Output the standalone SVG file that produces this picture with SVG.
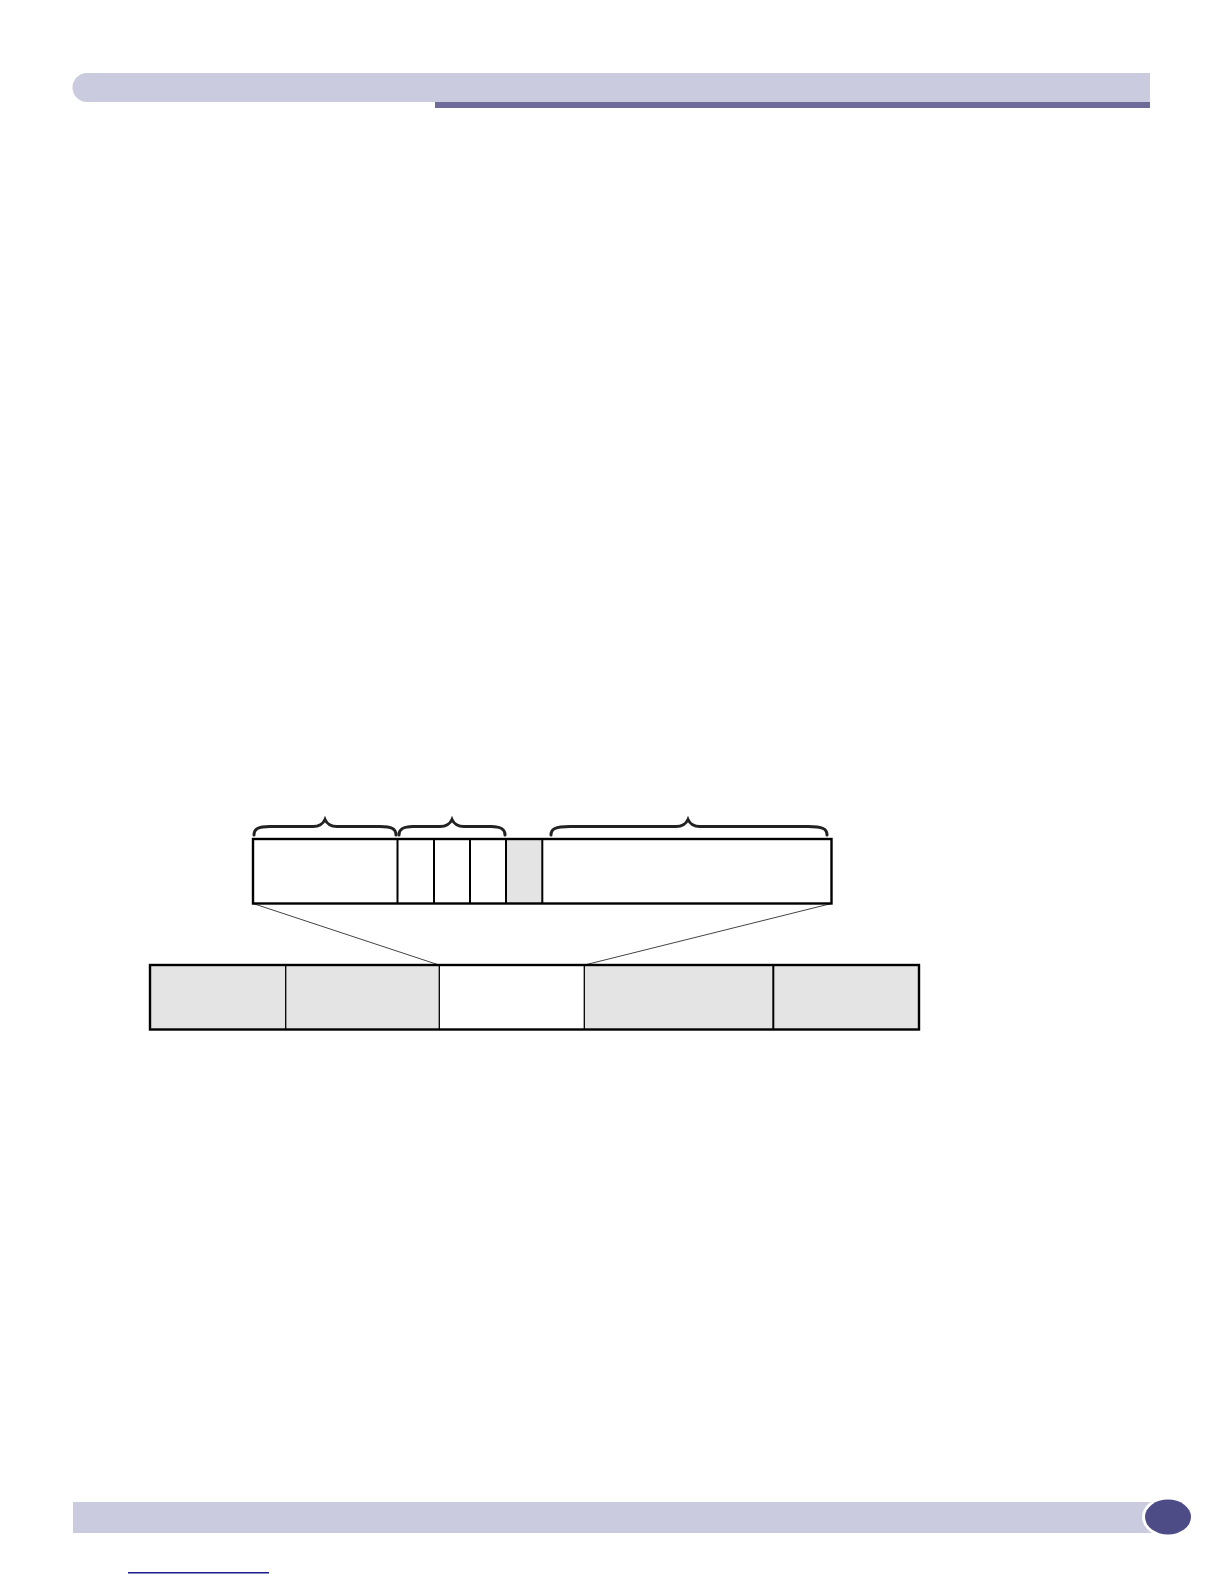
<svg xmlns="http://www.w3.org/2000/svg" width="1224" height="1584" viewBox="0 0 1224 1584">
<style>
.hdr{fill:#cbcbdf}
.grey{fill:#e4e4e4}
.div{stroke:#000;stroke-width:2}
.thin{stroke:#000;stroke-width:1.3}
.brace{fill:none;stroke:#222;stroke-width:3;stroke-linecap:round}
.zoom{stroke:#444;stroke-width:1;fill:none}
</style>
<rect width="1224" height="1584" fill="#fff"/>
<g id="header">
<path class="hdr" d="M87,73 H1150 V102 H87 A14.5,14.5 0 0 1 87,73 Z"/>
<rect x="435" y="102" width="715" height="6" fill="#6e6a9a"/>
</g>
<g id="footer">
<rect class="hdr" x="73" y="1502" width="1080" height="31"/>
<ellipse cx="1168" cy="1517" rx="26" ry="20" fill="#fff"/>
<ellipse cx="1168" cy="1517" rx="23" ry="17.5" fill="#4e4c86"/>
<rect x="128" y="1572" width="141" height="1.5" fill="#1c1c8c"/>
</g>
<g id="braces">
<path class="brace" d="M254,835 C254,829 258,826.5 270,826.5 L313,826.5 C320,826.5 323,824 325,819.5 C327,824 330,826.5 337,826.5 L380,826.5 C392,826.5 396,829 396,835"/>
<path class="brace" d="M399,835 C399,829 403,826.5 413,826.5 L440,826.5 C447,826.5 450,824 452,819.5 C454,824 457,826.5 464,826.5 L491,826.5 C501,826.5 505,829 505,835"/>
<path class="brace" d="M551,835 C551,829 555,826.5 570,826.5 L676,826.5 C683,826.5 686,824 688,819.5 C690,824 693,826.5 700,826.5 L808,826.5 C823,826.5 827,829 827,835"/>
</g>
<g id="connectors">
<line class="zoom" x1="253" y1="903.5" x2="439" y2="965"/>
<line class="zoom" x1="831.5" y1="903.5" x2="584.5" y2="965"/>
</g>
<g id="top-frame">
<rect class="grey" x="506" y="839" width="36" height="64"/>
<rect x="253" y="839" width="578.5" height="64.5" fill="none" stroke="#000" stroke-width="2.4"/>
<line class="div" x1="397.5" y1="839" x2="397.5" y2="903.5"/>
<line class="div" x1="434" y1="839" x2="434" y2="903.5"/>
<line class="div" x1="470" y1="839" x2="470" y2="903.5"/>
<line class="div" x1="506" y1="839" x2="506" y2="903.5"/>
<line class="div" x1="542.3" y1="839" x2="542.3" y2="903.5"/>
</g>
<g id="bottom-frame">
<rect class="grey" x="150" y="965" width="289" height="64"/>
<rect class="grey" x="584" y="965" width="335" height="64"/>
<rect x="150" y="965" width="769" height="64.5" fill="none" stroke="#000" stroke-width="2.4"/>
<line class="thin" x1="285.7" y1="965" x2="285.7" y2="1029.5"/>
<line class="thin" x1="439.3" y1="965" x2="439.3" y2="1029.5"/>
<line class="thin" x1="584.3" y1="965" x2="584.3" y2="1029.5"/>
<line class="div" x1="773.3" y1="965" x2="773.3" y2="1029.5"/>
</g>
</svg>
